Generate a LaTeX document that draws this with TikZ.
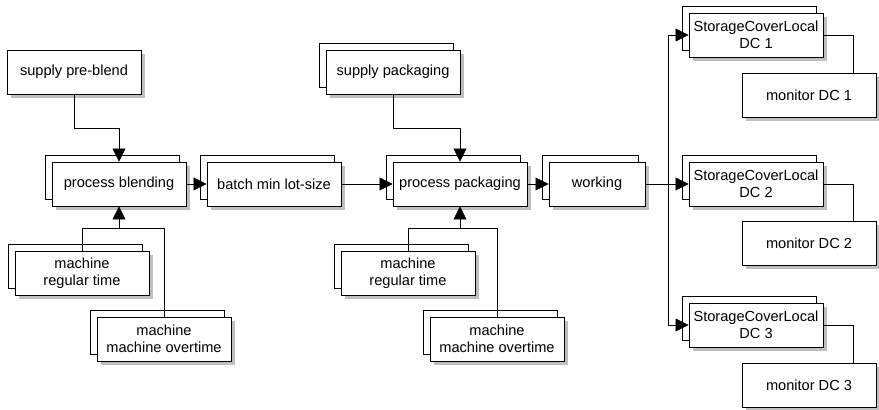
\documentclass[tikz,border=0pt]{standalone}
\usepackage{fontspec}
\setmainfont{Liberation Sans}
\usepackage{tikz}
\usetikzlibrary{arrows.meta, shadows, calc}
\tikzset{
	boxtext/.style={font=\fontsize{14.6}{17}\selectfont, align=center}
}
\tikzset{
	singlebox/.style={boxtext, draw, fill=white, line width=0.9pt, minimum width=134pt, minimum height=44pt, inner sep=0pt,
		drop shadow={shadow xshift=4pt, shadow yshift=-4pt, fill=black!25, opacity=1}},
	stackbox/.style={singlebox, copy shadow={shadow xshift=-7pt, shadow yshift=7pt, draw, fill=white, line width=0.9pt}},
	flow/.style={-{Triangle[length=13pt,width=13pt]}}
}

\begin{document}
\begin{tikzpicture}[x=1pt, y=-1pt, line width=0.7pt]
      \useasboundingbox (0,0) rectangle (879,410);
      % blending stage
      \node[singlebox] (preblend) at (74,72) {supply pre-blend};
      \node[stackbox] (blend) at (119,184) {process blending};
      \node[stackbox] (batch) at (274,184) {batch min lot-size};
      \node[stackbox] (regL) at (82,273) {machine\\regular time};
      \node[stackbox] (overL) at (164,339) {machine\\machine overtime};
      % packaging stage
      \node[stackbox] (supplypack) at (393,72) {supply packaging};
      \node[stackbox] (pack) at (460,184) {process packaging};
      \node[stackbox, minimum width=96pt] (working) at (597,184) {working};
      \node[stackbox] (regM) at (408,273) {machine\\regular time};
      \node[stackbox] (overM) at (497,339) {machine\\machine overtime};
      % distribution centres
      \node[stackbox] (dc1) at (756,35) {StorageCoverLocal\\DC 1};
      \node[stackbox] (dc2) at (756,184) {StorageCoverLocal\\DC 2};
      \node[stackbox] (dc3) at (756,325) {StorageCoverLocal\\DC 3};
      \node[singlebox] (mon1) at (809,95) {monitor DC 1};
      \node[singlebox] (mon2) at (809,243) {monitor DC 2};
      \node[singlebox] (mon3) at (809,385) {monitor DC 3};
      % joints
      \coordinate (blendjoin) at (119,228);
      \coordinate (packjoin) at (460,228);
      \coordinate (split) at (668,184);
      % connectors
      \draw[flow] (preblend.south) -- ++(0,34) -| (blend.north);
      \draw (regL.north) |- (blendjoin);
      \draw (overL.north) |- (blendjoin);
      \draw[flow] (blendjoin) -- (blend.south);
      \draw[flow] (blend.east) -- (batch.west);
      \draw[flow] (batch.east) -- (pack.west);
      \draw[flow] (supplypack.south) -- ++(0,34) -| (pack.north);
      \draw (regM.north) |- (packjoin);
      \draw (overM.north) |- (packjoin);
      \draw[flow] (packjoin) -- (pack.south);
      \draw[flow] (pack.east) -- (working.west);
      \draw (working.east) -- (split);
      \draw[flow] (split) |- (dc1.west);
      \draw[flow] (split) -- (dc2.west);
      \draw[flow] (split) |- (dc3.west);
      \draw (dc1.east) -- ++(30,0) coordinate (m1) -- (m1 |- mon1.north);
      \draw (dc2.east) -- ++(30,0) coordinate (m2) -- (m2 |- mon2.north);
      \draw (dc3.east) -- ++(30,0) coordinate (m3) -- (m3 |- mon3.north);
    \end{tikzpicture}
\end{document}
